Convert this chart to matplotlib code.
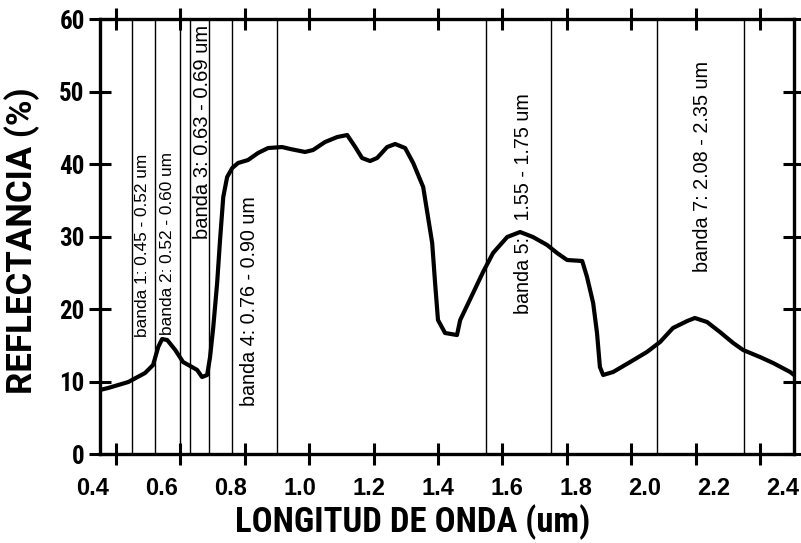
import matplotlib
matplotlib.use("Agg")
from matplotlib import pyplot as plt

# spectral reflectance curve
wavelength = [0.35, 0.375, 0.438, 0.49, 0.515, 0.531, 0.543, 0.559, 0.584, 0.608,
              0.636, 0.652, 0.667, 0.683, 0.692, 0.702, 0.714, 0.723, 0.733, 0.745,
              0.761, 0.779, 0.81, 0.841, 0.872, 0.916, 0.941, 0.987, 1.012, 1.049,
              1.087, 1.118, 1.143, 1.164, 1.189, 1.211, 1.242, 1.267, 1.298, 1.323,
              1.354, 1.369, 1.382, 1.391, 1.40, 1.422, 1.459, 1.469, 1.509, 1.54,
              1.571, 1.615, 1.655, 1.695, 1.739, 1.77, 1.801, 1.848, 1.863, 1.882,
              1.894, 1.903, 1.913, 1.944, 1.997, 2.049, 2.09, 2.13, 2.174, 2.198,
              2.236, 2.276, 2.317, 2.348, 2.40, 2.441, 2.494, 2.506]
reflectance = [8.83, 9.10, 9.93, 11.17, 12.28, 14.76, 15.86, 15.72, 14.34, 12.69,
               12.0, 11.59, 10.62, 10.90, 13.38, 17.52, 23.59, 29.52, 35.45, 38.2,
               39.45, 40.14, 40.55, 41.52, 42.2, 42.34, 42.07, 41.66, 41.93, 43.03,
               43.72, 44.0, 42.34, 40.83, 40.41, 40.83, 42.34, 42.76, 42.2, 40.14,
               36.83, 32.69, 29.1, 23.59, 18.48, 16.69, 16.41, 18.48, 22.2, 25.1,
               27.72, 29.93, 30.62, 29.93, 28.83, 27.72, 26.76, 26.62, 24.41, 20.83,
               16.69, 12.0, 10.9, 11.31, 12.69, 14.07, 15.45, 17.38, 18.34, 18.76,
               18.2, 16.82, 15.31, 14.34, 13.38, 12.55, 11.31, 10.9]

# Landsat TM band edges and their labels
band_edges = [0.45, 0.52, 0.60, 0.63, 0.69, 0.76, 0.90, 1.55, 1.75, 2.08, 2.35]
band_labels = ["banda 1: 0.45 - 0.52 um", "banda 2: 0.52 - 0.60 um",
               "banda 3: 0.63 - 0.69 um", "banda 4: 0.76 - 0.90 um",
               "banda 5:   1.55 - 1.75 um", "banda 7: 2.08 - 2.35 um"]
band_label_x = [0.481, 0.559, 0.670, 0.816, 1.667, 2.223]
band_label_y = [28.8, 29.0, 44.4, 21.1, 34.5, 39.7]
band_label_size = [12.4, 12.4, 14.5, 14.2, 14.2, 14.3]

x_ticks = [0.4, 0.6, 0.8, 1.0, 1.2, 1.4, 1.6, 1.8, 2.0, 2.2, 2.4]
y_ticks = [0, 10, 20, 30, 40, 50, 60]

narrow = ["Roboto Condensed", "Archivo Narrow", "Barlow Condensed", "DejaVu Sans"]
plain = ["Liberation Sans", "Arimo", "DejaVu Sans"]


# the printed tick numbers sit on a slightly wider scale than the tick marks
def label_pos(v):
    return 0.45 + ((v - 0.4) * 345.0 - 39.5) / 322.0


fig = plt.figure(figsize=(8.01, 5.43), dpi=100)
ax = fig.add_axes([0.1248, 0.1639, 0.8665, 0.8011])

for edge in band_edges:
    ax.axvline(edge, color="black", lw=1.0)

ax.plot(wavelength, reflectance, color="black", lw=3.0, solid_capstyle="round",
        solid_joinstyle="round")

for txt, bx, by, fs in zip(band_labels, band_label_x, band_label_y, band_label_size):
    ax.text(bx, by, txt, rotation=90, ha="center", va="center", fontsize=fs,
            family=plain)

ax.set_xlim(0.35, 2.506)
ax.set_ylim(0, 60)

ax.set_xticks(x_ticks)
ax.set_yticks(y_ticks)

for sp in ax.spines.values():
    sp.set_linewidth(2.4)

ax.tick_params(axis="x", which="major", direction="inout", length=16, width=2.2,
               bottom=True, top=True, labelbottom=False)
ax.tick_params(axis="y", which="major", direction="inout", length=16, width=2.2,
               left=True, right=True, pad=3)

for lab in ax.get_yticklabels():
    lab.set_family(narrow)
    lab.set_fontweight("bold")
    lab.set_fontsize(18)

# x tick numbers
xt = ax.get_xaxis_transform()
for v in x_ticks:
    ax.text(label_pos(v), -0.054, "%.1f" % v, transform=xt, ha="center", va="top",
            fontsize=17, fontweight="bold", family=plain, clip_on=False)

ax.set_xlabel("LONGITUD DE ONDA (um)", fontsize=25, fontweight="bold",
              family=narrow)
ax.xaxis.set_label_coords(0.451, -0.115)
ax.set_ylabel("REFLECTANCIA (%)", fontsize=25, fontweight="bold",
              family=["Roboto", "DejaVu Sans"])
ax.yaxis.set_label_coords(-0.087, 0.49)

fig.savefig("out.png", dpi=100)
